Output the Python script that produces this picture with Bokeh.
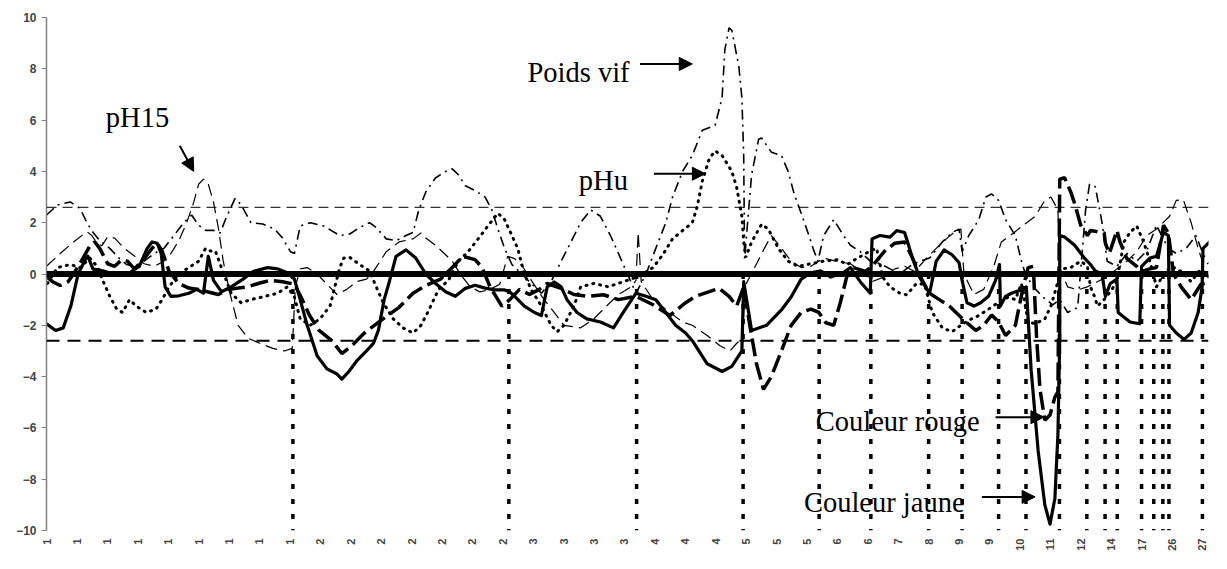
import math
from bokeh.plotting import figure
from bokeh.models import Range1d, FixedTicker, Span, Label, Arrow, NormalHead, ColumnDataSource
from bokeh.embed import file_html
from bokeh.resources import INLINE

# ---- data (x = marker index along the genome, y = test statistic) ----
tick_pos = list(range(0, 390, 10))
tick_labels = (["1"] * 9 + ["2"] * 7 + ["3"] * 4 + ["4"] * 3 + ["5"] * 3 + ["6"] * 2 +
               ["7", "8", "9", "9", "10", "11", "12", "14", "17", "26", "27"])

chrom_bounds = [81, 152, 194, 229, 254, 271, 290, 301, 313, 322, 333, 342, 348, 352, 360, 364, 367, 369, 380]
threshold = 2.6

couleur_jaune = [
    (0, -1.94), (3, -2.2), (5.5, -2.1), (8, -1.25), (10.4, 0), (12.7, 0.55), (13.6, 0.69), (15.3, 0.19),
    (17.5, 0.15), (20.8, 0.05), (27.3, 0.05), (30.5, 0.3), (33.1, 1.0), (34.7, 1.25), (36.4, 1.2), (37.7, 0.8),
    (39, -0.5), (40.9, -0.87), (43.5, -0.85), (46.8, -0.75), (49.4, -0.6), (51.6, -0.75), (53.2, 0.69),
    (54.9, -0.25), (57.5, -0.69), (60.7, -0.5), (64.6, -0.2), (67.9, 0.1), (72.7, 0.25), (76, 0.2),
    (79.2, 0.05), (81.5, -0.2), (83.4, -1.0), (85.7, -2.0), (89, -3.2), (92.2, -3.7), (95.5, -3.9),
    (97.1, -4.1), (99.4, -3.8), (101.9, -3.4), (105.2, -3.0), (107.5, -2.7), (109.1, -2.2), (111, -1.0),
    (112.7, -0.3), (114.9, 0.69), (118.2, 0.94), (121.4, 0.62), (124.7, 0.0), (127.9, -0.37), (131.2, -0.69),
    (134.4, -0.87), (137.7, -0.56), (140.9, -0.44), (144.2, -0.55), (147.4, -0.62), (150.6, -0.62),
    (152.3, -0.7), (153.9, -0.87), (157.1, -1.25), (160.4, -1.5), (162.7, -1.62), (164.6, -0.5),
    (166.9, -0.31), (169.2, -0.5), (171.1, -1.0), (174.4, -1.5), (177.6, -1.75), (182.1, -1.87),
    (186.4, -2.1), (189.6, -1.5), (193.8, -0.75), (197.1, -0.87), (200.3, -1.0), (203.6, -1.5),
    (206.8, -2.0), (210.1, -2.3), (212.3, -2.6), (217.2, -3.5), (222.1, -3.8), (225.3, -3.6), (228.6, -3.0),
    (229.2, -0.3), (231.8, -2.2), (236.7, -2.0), (241.6, -1.4), (244.8, -0.9), (248.1, -0.2), (251.3, 0.05),
    (254.5, 0.12), (257.8, -0.12), (262, 0.06), (264.3, 0.25), (267.5, -0.3), (270.8, -0.75), (271.4, 1.37),
    (274, 1.5), (277.3, 1.44), (279.5, 1.69), (282.1, 1.62), (284.7, 0.62), (287, -0.12), (290.3, -0.75),
    (292.5, 0.5), (295.1, 0.94), (297.7, 0.75), (300, 0.44), (301, -0.25), (302.6, -1.12), (304.9, -1.25),
    (307.1, -1.12), (309.7, -0.87), (312, -0.25), (313.3, 0.37), (313.6, -1.25), (315.3, -0.87),
    (317.2, -0.75), (320.5, -0.62), (322.1, -0.5), (323.7, -3.75), (326, -6.9), (328.2, -9.0),
    (329.9, -9.75), (331.5, -8.75), (332.5, -6.25), (333.1, -2.5), (333.1, 1.5), (334.7, 1.44), (338, 1.12),
    (341.2, 0.62), (343.2, 0.37), (344.8, 0.12), (347, 0.0), (348.1, -0.87), (349.7, -0.37), (351.9, -0.2),
    (352.3, -1.5), (356.2, -1.87), (359.4, -1.94), (360, 0.3), (362.7, 0.62), (364.9, 0.69), (367.2, 1.62),
    (368.8, 1.5), (369.2, -2.0), (371.4, -2.3), (374, -2.55), (376.3, -2.3), (378.6, -1.5), (379.9, -0.5),
    (380.2, 1.0), (382.8, 1.3),
]

couleur_rouge = [
    (0, -0.1), (2, -0.3), (4.5, -0.45), (7.1, -0.3), (9.4, 0.1), (12, 0.62), (14.3, 1.1), (15.9, 1.25),
    (17.5, 1.0), (20.1, 0.4), (22.4, 0.3), (24.7, 0.55), (26.6, 0.5), (28.9, 0.2), (32.1, 0.6), (34.7, 1.0),
    (36.4, 1.2), (38, 0.9), (40.3, 0.1), (43.5, -0.37), (46.8, -0.55), (50, -0.6), (53.2, -0.7), (56.5, -0.8),
    (59.7, -0.6), (63, -0.55), (66.2, -0.5), (70.1, -0.35), (73.7, -0.25), (77.6, -0.3), (81.5, -0.4),
    (84.1, -1.0), (86.4, -1.6), (89.6, -2.2), (93.8, -2.6), (97.1, -3.1), (100.3, -2.8), (104.5, -2.3),
    (110.1, -1.8), (115.9, -1.3), (120.5, -0.75), (124.7, -0.45), (129.5, -0.2), (133.8, 0.3), (136.7, 0.69),
    (140.9, 0.56), (143.2, 0.25), (145.8, -0.5), (149.7, -1.25), (152.3, -1.0), (155.5, -0.6), (158.8, -0.8),
    (162, -0.6), (164.6, -0.37), (169.2, -0.56), (173.4, -0.8), (177.6, -0.87), (183.1, -0.81), (188, -1.0),
    (193.8, -0.87), (199.4, -1.2), (204.9, -1.62), (210.1, -1.12), (213.3, -0.87), (217.9, -0.69),
    (221.1, -0.56), (224.4, -0.87), (226.9, -1.25), (229.2, -0.5), (231.2, -2.0), (233.4, -3.5),
    (235.7, -4.5), (238.3, -4.0), (241.6, -3.0), (244.8, -2.0), (248.1, -1.5), (251.3, -1.37), (253.9, -1.5),
    (256.2, -1.9), (258.8, -2.0), (261, -1.1), (263.3, 0.0), (265.3, 0.25), (269.2, 0.1), (271.4, 0.3),
    (275.6, 0.9), (278.9, 1.2), (282.1, 1.25), (284.7, 0.62), (287.9, -0.25), (290.3, -0.75), (293.5, -1.0),
    (296.8, -1.25), (299, -1.5), (302.3, -1.87), (305.5, -2.2), (308.1, -2.0), (310.7, -1.6), (313, -1.87),
    (315.3, -2.4), (318.5, -2.0), (321.1, -0.5), (322.7, 0.25), (324.4, 0.3), (325.5, -2.5), (326.6, -4.5),
    (328.2, -5.7), (329.9, -5.5), (331.5, -4.8), (332.5, -4.6), (333.1, 3.7), (334.7, 3.75), (336.7, 3.2),
    (338, 2.75), (340, 1.9), (342.2, 1.5), (343.2, 1.7), (345.5, 1.65), (347.7, 1.6), (348.1, 1.2),
    (349.4, 0.8), (351.9, 1.7), (352.9, 1.25), (355.2, 0.6), (358.4, 0.3), (360, 0.1), (362.7, 0.2),
    (364.9, 0.25), (367.2, 1.9), (368.8, 1.6), (370.5, 0.0), (373, -0.5), (376.3, -1.0), (379.5, -0.4),
    (382.8, -0.3),
]

phu = [
    (0.3, -0.37), (3.6, 0.25), (7.8, 0.37), (11, 0.25), (14.3, 0.62), (16.6, 0.3), (18.5, -0.25), (20.8, -0.87),
    (23.1, -1.37), (25, -1.5), (27.3, -1.0), (29.5, -1.25), (32.8, -1.5), (36, -1.37), (38, -1.0), (40.3, -0.5),
    (43.5, 0.0), (46.8, 0.25), (50, 0.5), (52.3, 1.0), (53.9, 0.9), (55.5, 0.9), (57.5, 0.25), (60.7, -0.75),
    (64, -1.12), (67.2, -1.0), (71.8, -0.87), (76, -0.75), (79.2, -0.5), (81.5, -0.9), (83.4, -1.75),
    (86.7, -2.0), (89.9, -1.75), (93.2, -1.25), (96.4, 0.25), (97.7, 0.62), (99.7, 0.65), (102.9, 0.37),
    (106.2, 0.12), (108.4, -0.5), (110.7, -1.12), (114, -1.75), (117.2, -2.1), (120.5, -2.3), (123.1, -2.0),
    (125.3, -1.5), (128.9, -0.6), (132.1, -0.25), (135.4, 0.5), (138.6, 0.87), (141.9, 1.37), (145.1, 1.87),
    (148.4, 2.37), (150.6, 2.12), (153, 1.5), (154.9, 1.0), (157.1, 0.0), (159.4, -0.62), (162.7, -1.25),
    (165.9, -2.0), (167.9, -2.25), (170.1, -2.0), (173.4, -1.25), (175.6, -0.5), (179.9, -0.37),
    (184.7, -0.5), (189.6, -0.3), (194.5, -0.1), (199.4, 0.25), (202.6, 0.75), (205.8, 1.37), (209.1, 1.69),
    (212.3, 2.0), (213.9, 2.62), (215.6, 3.62), (217.9, 4.5), (219.8, 4.8), (222.1, 4.62), (225.3, 4.0),
    (226.9, 3.37), (228.6, 2.25), (229.2, 1.25), (229.9, 0.65), (231.8, 1.25), (235.1, 1.94), (237.3, 1.75),
    (240.6, 1.0), (243.8, 0.5), (247.1, 0.3), (251.3, 0.4), (255.5, 0.5), (260, 0.56), (263.3, 0.37),
    (266.6, 0.62), (270.8, 0.9), (272.9, 1.0), (274.9, -0.12), (277.3, -0.5), (280.5, -0.75), (282.8, -0.81),
    (286, -0.37), (288.6, -0.4), (291.2, -1.5), (294.5, -2.1), (297.7, -2.25), (300.6, -2.0), (303.2, -1.8),
    (306.5, -1.62), (309.7, -1.37), (313, -1.1), (316.2, -0.9), (318.5, -1.0), (320.5, -0.37), (322.7, -1.87),
    (325, -1.94), (328.2, -1.75), (330.2, -1.25), (332.5, -0.3), (333.4, 0.19), (336.7, 0.25), (340, 0.5),
    (342.2, 0.3), (343.2, -0.5), (344.5, -0.87), (345.5, -1.25), (347.7, -1.0), (350.3, -0.6), (351.9, -0.25),
    (354.2, 1.25), (356.2, 1.62), (358.4, 1.87), (360.7, 1.25), (362.7, 0.5), (364.9, -0.5), (367.2, 0.0),
    (369.8, 0.3), (373, 0.1), (376.3, -0.3), (379.5, 0.2), (382.8, -0.2),
]

poids_vif = [
    (0, 2.3), (3.6, 2.69), (7.8, 2.81), (11, 2.56), (13.3, 2.0), (15.3, 1.62), (17.5, 1.3), (20.8, 1.0),
    (24, 0.6), (26.3, 0.37), (28.9, 0.3), (32.1, 0.5), (35.4, 0.8), (38.6, 1.0), (41.9, 1.5), (45.1, 2.0),
    (47.7, 2.3), (50, 1.9), (52.3, 1.7), (54.9, 1.7), (57.1, 1.6), (59.1, 2.2), (62, 2.95), (64, 2.7),
    (67.2, 2.0), (71.1, 1.95), (75, 1.75), (77.6, 1.4), (80.2, 0.87), (81.5, 0.8), (83.4, 1.87), (86.7, 2.0),
    (91.2, 1.87), (96.4, 1.5), (99.7, 1.56), (102.9, 1.81), (106.2, 2.0), (108.4, 1.81), (111.7, 1.37),
    (114.9, 1.3), (118.2, 1.5), (120.5, 1.62), (122.4, 2.5), (124.7, 3.2), (127.9, 3.75), (131.2, 4.0),
    (133.4, 4.1), (135.4, 3.87), (137.7, 3.44), (140.9, 3.25), (144.2, 3.0), (146.4, 2.5), (148.4, 1.75),
    (150.6, 1.0), (153, 0.37), (156.2, 0.0), (159.4, -0.37), (162.7, -0.75), (165.9, -0.3), (169.2, 0.5),
    (172.4, 1.25), (175.6, 2.0), (178.9, 2.5), (182.1, 2.25), (185.4, 1.5), (187.3, 1.0), (189.6, 0.37),
    (191.9, -0.25), (193.8, -0.75), (197.1, 0.0), (200.3, 1.0), (203.6, 2.0), (205.8, 3.0), (209.1, 4.0),
    (212.3, 4.62), (215.6, 5.6), (219.8, 5.8), (222.1, 6.87), (223, 8.75), (224.4, 9.6), (225.3, 9.5),
    (227.6, 8.1), (228.6, 6.87), (229.2, 4.6), (229.5, 0.6), (231.8, 3.87), (234.1, 5.25), (235.1, 5.3),
    (238.3, 4.75), (241.6, 4.62), (243.8, 4.0), (245.8, 3.12), (248.1, 2.37), (250.3, 1.62), (252, 1.0),
    (253.6, 0.5), (255.5, 1.5), (258.8, 2.12), (262, 1.5), (264.3, 1.12), (267.5, 0.87), (270.8, 0.5),
    (274, 0.4), (277.3, 0.2), (280.5, 0.0), (283.8, 0.3), (287, 0.5), (290.3, 0.62), (294.5, 1.25),
    (297.7, 1.62), (300, 1.75), (301, 0.87), (303.2, 1.5), (306.5, 2.12), (308.8, 3.0), (310.7, 3.12),
    (313, 2.87), (315.3, 2.12), (318.5, 1.5), (320.5, 0.5), (321.8, 0.0), (324.4, -0.5), (327.6, -0.9),
    (330.8, -1.2), (333.1, -1.0), (335.7, -1.5), (339, -1.3), (341.6, 2.5), (342.9, 3.5), (344.8, 3.4),
    (347, 2.0), (348.7, 0.5), (351.9, 0.3), (355.2, 0.8), (358.4, 0.5), (361.7, 0.9), (364.9, 1.9),
    (366.6, 1.5), (368.8, 1.0), (371.4, 0.8), (374.7, 1.0), (377.9, 1.5), (380.5, 0.7), (382.8, 0.6),
]

ph15 = [
    (0, 0.3), (4.5, 0.8), (9.4, 1.3), (13.3, 1.65), (14.9, 1.5), (16.6, 1.2), (18.2, 1.1), (20.1, 1.45),
    (22.4, 1.4), (25.6, 1.0), (28.9, 0.7), (32.1, 0.4), (35.4, 0.3), (38.6, 0.5), (40.9, 0.8), (43.5, 1.3),
    (46.1, 2.0), (48.4, 2.8), (50, 3.5), (51.6, 3.7), (53.2, 3.5), (54.9, 2.8), (56.5, 1.8), (58.1, 0.5),
    (60.4, -0.8), (63, -2.0), (66.2, -2.5), (70.1, -2.7), (74.4, -2.9), (78.2, -3.0), (80.8, -2.9),
    (81.8, -0.5), (83.4, 0.2), (85.7, 0.25), (89, 0.0), (92.2, -0.4), (95.5, -0.8), (98.7, -0.6),
    (101.9, -0.3), (105.2, -0.2), (107.5, 0.1), (111.7, 0.87), (115.9, 1.25), (120.5, 1.37), (123.1, 1.6),
    (124.7, 1.4), (127.9, 1.12), (131.2, 0.75), (133.4, 0.5), (136, 0.0), (139.3, -0.5), (142.5, -0.7),
    (145.8, -0.6), (149, -0.4), (151.6, 0.69), (153.9, 0.6), (156.5, 0.3), (159.4, -0.25), (163, -0.9),
    (166.9, -1.5), (170.1, -2.0), (175.6, -2.1), (179.9, -1.75), (184.1, -1.25), (188, -0.8), (192.2, -0.5),
    (193.8, -0.25), (194.5, 1.62), (195.5, -0.3), (199.4, -1.0), (204.9, -1.5), (209.1, -1.87),
    (212.3, -2.0), (217.2, -2.4), (221.4, -2.8), (224.7, -3.0), (226.9, -2.7), (228.9, -2.5), (229.5, -0.5),
    (232.8, 0.25), (236, 1.0), (238.3, 1.5), (241.6, 1.0), (244.8, 0.5), (248.1, 0.25), (251.3, 0.3),
    (255.5, 0.62), (259.4, 0.5), (264.3, 0.4), (269.2, 0.0), (271.4, -0.3), (275.6, -0.1), (278.9, 0.2),
    (282.1, 0.3), (285.4, 0.1), (289.3, 0.62), (292.5, 1.0), (295.8, 1.37), (299, 1.69), (300.6, 1.75),
    (301.6, 0.0), (304.9, -0.8), (308.1, -0.6), (311.4, 0.3), (313.9, 1.25), (317.9, 1.6), (321.1, 1.9),
    (325, 2.25), (328.2, 2.87), (330.2, 3.0), (332.5, 2.5), (333.1, 0.2), (335.7, -0.5), (339, -0.62),
    (342.2, -0.5), (345.5, -0.3), (348.7, -0.1), (351.9, 0.2), (355.2, 0.5), (358.4, 0.87), (361.7, 1.5),
    (364.9, 1.75), (369.2, 2.25), (371.4, 2.87), (373.7, 2.9), (376.3, 2.0), (378.6, 1.0), (380.5, 0.3),
    (382.8, 0.5),
]

annotations = [
    # text, x, y (baseline), arrow x0, y0, x1, y1
    ("Poids vif", 158.1, 7.85, 195.1, 8.19, 212.3, 8.19),
    ("pHu", 175.0, 3.65, 199.7, 3.91, 216.6, 3.91),
    ("pH15", 19.5, 6.1, 43.8, 5.0, 48.4, 4.0),
    ("Couleur rouge", 252.9, -5.76, 312.0, -5.58, 327.9, -5.58),
    ("Couleur jaune", 249.0, -8.9, 307.5, -8.69, 325.0, -8.69),
]

# ---- figure ----
p = figure(width=1211, height=553, output_backend="svg", toolbar_location=None,
           x_range=Range1d(0, 382), y_range=Range1d(-10, 10),
           min_border_left=46, min_border_right=3, min_border_top=17, min_border_bottom=16)
p.outline_line_color = None
p.xgrid.visible = False
p.ygrid.visible = False
p.background_fill_color = "white"

# y axis
ya = p.yaxis[0]
ya.ticker = FixedTicker(ticks=list(range(-10, 11, 2)))
ya.axis_line_color = "#808080"
ya.axis_line_width = 1.5
ya.major_tick_line_color = "#808080"
ya.major_tick_out = 5
ya.major_tick_in = 0
ya.minor_tick_line_color = None
ya.major_label_text_font = "Liberation Sans"
ya.major_label_text_font_style = "bold"
ya.major_label_text_font_size = "12px"
ya.major_label_standoff = 5

# x axis (category labels only)
xa = p.xaxis[0]
xa.ticker = FixedTicker(ticks=tick_pos)
xa.major_label_overrides = {t: l for t, l in zip(tick_pos, tick_labels)}
xa.major_label_orientation = math.pi / 2
xa.axis_line_color = None
xa.major_tick_line_color = None
xa.minor_tick_line_color = None
xa.major_label_text_font = "Liberation Sans"
xa.major_label_text_font_style = "bold"
xa.major_label_text_font_size = "11px"
xa.major_label_standoff = 2

# thresholds
p.add_layout(Span(location=threshold, dimension="width", line_color="black",
                  line_width=1, line_dash="10 6"))
p.add_layout(Span(location=-threshold, dimension="width", line_color="black",
                  line_width=2, line_dash="13 8"))


def draw(series, **kw):
    src = ColumnDataSource(dict(x=[a for a, b in series], y=[b for a, b in series]))
    p.line("x", "y", source=src, line_color="black", **kw)


draw(ph15, line_width=1.2, line_dash="12 6")
draw(poids_vif, line_width=1.6, line_dash="10 5 2 5")
draw(phu, line_width=3, line_dash="1 6", line_cap="round")
draw(couleur_rouge, line_width=3.5, line_dash="18 6")
draw(couleur_jaune, line_width=3.2, line_join="round")

# chromosome boundaries
p.segment(x0=chrom_bounds, y0=[0] * len(chrom_bounds), x1=chrom_bounds, y1=[-10] * len(chrom_bounds),
          line_color="black", line_width=3.5, line_dash="5 10")

# zero line
p.add_layout(Span(location=0, dimension="width", line_color="black", line_width=6))

for txt, tx, ty, ax0, ay0, ax1, ay1 in annotations:
    p.add_layout(Label(x=tx, y=ty, text=txt, text_font="Liberation Serif", text_font_size="28.5px",
                       text_baseline="alphabetic", text_color="black"))
    p.add_layout(Arrow(x_start=ax0, y_start=ay0, x_end=ax1, y_end=ay1, line_width=2, line_color="black",
                       end=NormalHead(size=13, fill_color="black", line_color="black")))

open("out.html", "w").write(file_html(p, INLINE))
